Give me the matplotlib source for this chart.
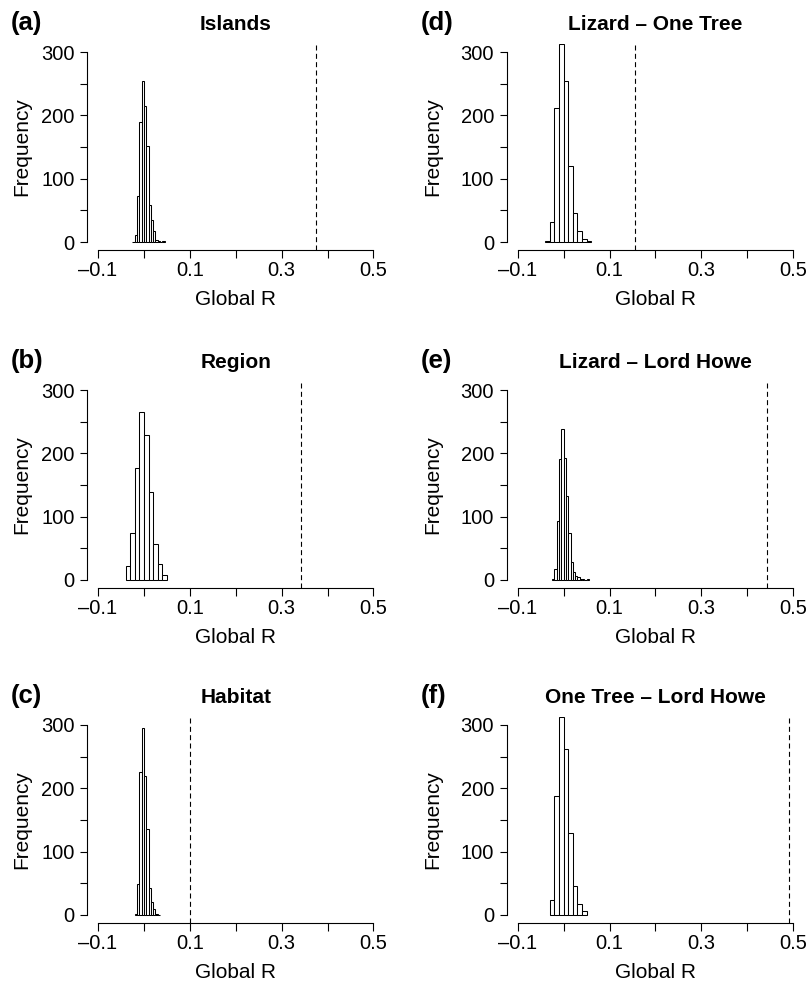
import matplotlib

matplotlib.use("Agg")
import matplotlib.pyplot as plt
import numpy as np

plt.rcParams.update({
    "font.family": ["Liberation Sans", "DejaVu Sans"],
    "axes.linewidth": 0.8,
    "xtick.major.width": 0.8, "ytick.major.width": 0.8,
    "xtick.minor.width": 0.8, "ytick.minor.width": 0.8,
    "xtick.major.size": 5.5, "ytick.major.size": 5.0,
    "xtick.minor.size": 5.5, "ytick.minor.size": 5.0,
    "xtick.direction": "out", "ytick.direction": "out",
})

W, H = 809, 984

LETTERS = ["(a)", "(b)", "(c)", "(d)", "(e)", "(f)"]
TITLES = ["Islands", "Region", "Habitat",
          "Lizard \u2013 One Tree", "Lizard \u2013 Lord Howe",
          "One Tree \u2013 Lord Howe"]

# permutation null distributions of Global R: first break, bin width, counts
ISLANDS_START, ISLANDS_BIN = -0.025, 0.005
ISLANDS_COUNTS = [0, 11, 72, 189, 254, 214, 152, 59, 34, 17, 3, 1, 0, 1]

REGION_START, REGION_BIN = -0.04, 0.01
REGION_COUNTS = [22, 74, 177, 266, 229, 139, 57, 26, 8]

HABITAT_START, HABITAT_BIN = -0.02, 0.005
HABITAT_COUNTS = [2, 49, 226, 295, 220, 135, 42, 20, 9, 1, 0]

LIZ_OT_START, LIZ_OT_BIN = -0.04, 0.01
LIZ_OT_COUNTS = [2, 31, 211, 312, 254, 120, 46, 18, 4, 1]

LIZ_LH_START, LIZ_LH_BIN = -0.025, 0.005
LIZ_LH_COUNTS = [1, 18, 93, 191, 238, 192, 133, 74, 29, 13, 7, 4, 2, 1, 0, 2]

OT_LH_START, OT_LH_BIN = -0.03, 0.01
OT_LH_COUNTS = [23, 188, 312, 262, 130, 46, 17, 7]

# observed Global R for each test
OBSERVED_R = [0.374, 0.342, 0.101, 0.156, 0.442, 0.491]

HISTS = [
    (ISLANDS_START, ISLANDS_BIN, ISLANDS_COUNTS),
    (REGION_START, REGION_BIN, REGION_COUNTS),
    (HABITAT_START, HABITAT_BIN, HABITAT_COUNTS),
    (LIZ_OT_START, LIZ_OT_BIN, LIZ_OT_COUNTS),
    (LIZ_LH_START, LIZ_LH_BIN, LIZ_LH_COUNTS),
    (OT_LH_START, OT_LH_BIN, OT_LH_COUNTS),
]

X_MAJOR = [-0.1, 0.1, 0.3, 0.5]
X_MINOR = [0.0, 0.2, 0.4]
X_LABELS = ["\u20130.1", "0.1", "0.3", "0.5"]
Y_MAJOR = [0, 100, 200, 300]
Y_MINOR = [50, 150, 250]

# layout in pixels (top-left origin)
COL_LEFT = [87.0, 506.7]
LETTER_X = [10.5, 421.0]
FREQ_X = [21.5, 433.0]
ROW_TOP = [44.4, 382.4, 717.4]
PLOT_W, PLOT_H = 297.5, 205.2


def fx(x):
    return x / W


def fy(y):
    return 1 - y / H


fig = plt.figure(figsize=(W / 100, H / 100), dpi=100)

for i in range(6):
    col, row = divmod(i, 3)
    left, top = COL_LEFT[col], ROW_TOP[row]
    ax = fig.add_axes([fx(left), fy(top + PLOT_H), PLOT_W / W, PLOT_H / H])

    start, width, counts = HISTS[i]
    counts = np.asarray(counts, dtype=float)
    edges = start + width * np.arange(len(counts))
    ax.bar(edges, counts, width=width, align="edge", color="white",
           edgecolor="black", linewidth=0.75)
    ax.axvline(OBSERVED_R[i], color="black", lw=0.8, ls=(0, (4.5, 3)))

    ax.set_xlim(-0.124, 0.524)
    ax.set_ylim(-12, 312)
    for s in ("top", "right"):
        ax.spines[s].set_visible(False)
    ax.spines["bottom"].set_bounds(-0.1, 0.5)
    ax.spines["left"].set_bounds(0, 300)

    ax.set_xticks(X_MAJOR, X_LABELS)
    ax.set_xticks(X_MINOR, minor=True)
    ax.set_yticks(Y_MAJOR, [str(v) for v in Y_MAJOR])
    ax.set_yticks(Y_MINOR, minor=True)
    ax.tick_params(axis="x", which="both", labelsize=14.5, pad=3)
    ax.tick_params(axis="y", which="both", labelsize=14.5, pad=4)

    cx = left + PLOT_W / 2
    fig.text(fx(cx), fy(top - 14.4), TITLES[i], ha="center", va="baseline",
             fontsize=15, fontweight="bold")
    fig.text(fx(LETTER_X[col]), fy(top - 14.4), LETTERS[i], ha="left",
             va="baseline", fontsize=18.5, fontweight="bold")
    fig.text(fx(cx), fy(top + 255.5), "Global R", ha="center", va="center",
             fontsize=15)
    fig.text(fx(FREQ_X[col]), fy(top + PLOT_H / 2), "Frequency", ha="center",
             va="center", rotation=90, fontsize=15)

fig.savefig("out.png", dpi=100)
